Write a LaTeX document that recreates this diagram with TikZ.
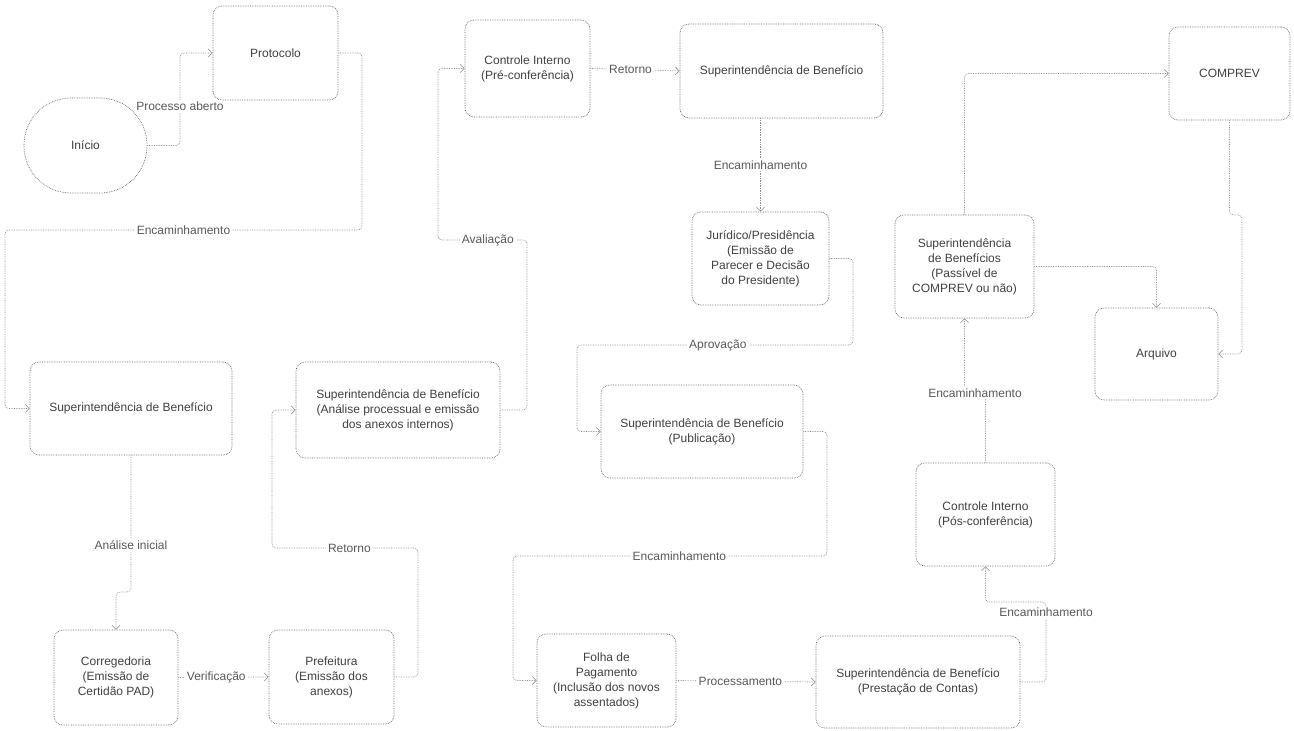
\documentclass[tikz,border=0pt]{standalone}
\usepackage{fontspec}
\setmainfont{Liberation Sans}
\usetikzlibrary{arrows.meta}
\begin{document}
\begin{tikzpicture}[x=1pt,y=-1pt,
  box/.style={draw=black!60, densely dotted, line width=0.7pt, rounded corners=9pt, align=center,
    font=\fontsize{12}{15}\selectfont, text=black!75, inner sep=2pt},
  conn/.style={draw=black!45, densely dotted, line width=0.7pt, rounded corners=4pt,
    -{Straight Barb[length=4pt,width=8pt,line width=0.6pt]}},
  lbl/.style={fill=white, font=\fontsize{12}{14}\selectfont, text=black!65, inner sep=2pt}]
\useasboundingbox (0,0) rectangle (1294,731);
\fill[white] (0,0) rectangle (1294,731);
% nodes
\node[box, rounded corners=47pt, minimum width=123pt, minimum height=95pt] (inicio) at (85.5,145.5) {Início};
\node[box, minimum width=125pt, minimum height=94pt] (protocolo) at (275.5,53) {Protocolo};
\node[box, minimum width=202pt, minimum height=93pt] (sb1) at (131,408.5) {Superintendência de Benefício};
\node[box, minimum width=124pt, minimum height=95pt] (corr) at (116,677.5) {Corregedoria\\(Emissão de\\Certidão PAD)};
\node[box, minimum width=125pt, minimum height=94pt] (pref) at (331.5,677) {Prefeitura\\(Emissão dos\\anexos)};
\node[box, minimum width=204pt, minimum height=96pt] (sb2) at (398,410) {Superintendência de Benefício\\(Análise processual e emissão\\dos anexos internos)};
\node[box, minimum width=125pt, minimum height=97pt] (ci1) at (527.5,68.5) {Controle Interno\\(Pré-conferência)};
\node[box, minimum width=203pt, minimum height=94pt] (sb3) at (781.5,71) {Superintendência de Benefício};
\node[box, minimum width=137pt, minimum height=93pt] (jur) at (760.5,258.5) {Jurídico/Presidência\\(Emissão de\\Parecer e Decisão\\do Presidente)};
\node[box, minimum width=202pt, minimum height=93pt] (sb4) at (702,431.5) {Superintendência de Benefício\\(Publicação)};
\node[box, minimum width=139pt, minimum height=93pt] (folha) at (606.5,680.5) {Folha de\\Pagamento\\(Inclusão dos novos\\assentados)};
\node[box, minimum width=204pt, minimum height=92pt] (sb5) at (918,682) {Superintendência de Benefício\\(Prestação de Contas)};
\node[box, minimum width=139pt, minimum height=103pt] (ci2) at (985.5,514.5) {Controle Interno\\(Pós-conferência)};
\node[box, minimum width=139pt, minimum height=103pt] (sb6) at (964.5,266.5) {Superintendência\\de Benefícios\\(Passível de\\COMPREV ou não)};
\node[box, minimum width=121pt, minimum height=93pt] (comprev) at (1229.5,73.5) {COMPREV};
\node[box, minimum width=123pt, minimum height=92pt] (arquivo) at (1156.5,354) {Arquivo};
% connectors
\draw[conn] (inicio.east) -- (180,145.5) -- node[lbl,pos=0.42]{Processo aberto} (180,53) -- (protocolo.west);
\draw[conn] (protocolo.east) -- (362,53) -- (362,230) -- node[lbl,pos=0.5]{Encaminhamento} (5,230) -- (5,408.5) -- (sb1.west);
\draw[conn] (sb1.south) -- node[lbl,pos=0.66]{Análise inicial} (131,592) -| (corr.north);
\draw[conn] (corr.east) -- node[lbl,pos=0.42]{Verificação} (pref.west);
\draw[conn] (pref.east) -- (418,677) -- (418,548) -- node[lbl,pos=0.47]{Retorno} (272,548) -- (272,410) -- (sb2.west);
\draw[conn] (sb2.east) -- (527,410) -- (527,240) -- node[lbl,pos=0.44]{Avaliação} (438,240) -- (438,68.5) -- (ci1.west);
\draw[conn] (ci1.east) -- node[lbl,pos=0.45]{Retorno} (sb3.west);
\draw[conn] (sb3.south -| jur.north) -- node[lbl,pos=0.5]{Encaminhamento} (jur.north);
\draw[conn] (jur.east) -- (853,258.5) -- (853,345) -- node[lbl,pos=0.49]{Aprovação} (577,345) -- (577,431.5) -- (sb4.west);
\draw[conn] (sb4.east) -- (827,431.5) -- (827,556) -- node[lbl,pos=0.47]{Encaminhamento} (513,556) -- (513,680.5) -- (folha.west);
\draw[conn] (folha.east) -- node[lbl,pos=0.46]{Processamento} (sb5.west);
\draw[conn] (sb5.east) -- (1046,682) -- node[lbl,pos=0.87]{Encaminhamento} (1046,602) -| (ci2.south);
\draw[conn] (ci2.north) -- (985.5,393) -- node[lbl,pos=0.5]{Encaminhamento} (964.5,393) -- (sb6.south);
\draw[conn] (sb6.north) |- (comprev.west);
\draw[conn] (comprev.south) -- (1229.5,215) -- (1242,215) -- (1242,354) -- (arquivo.east);
\draw[conn] (sb6.east) -| (arquivo.north);
\end{tikzpicture}
\end{document}
